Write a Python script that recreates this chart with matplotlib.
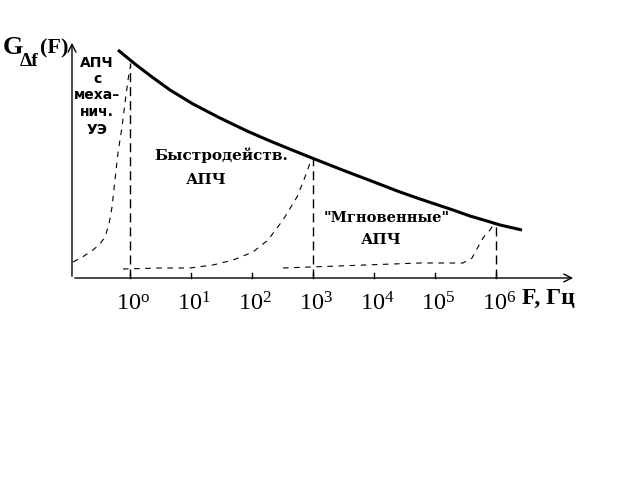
import matplotlib
matplotlib.use("Agg")
import matplotlib.pyplot as plt

plt.rcParams['mathtext.fontset'] = 'custom'
plt.rcParams['mathtext.rm'] = 'Liberation Serif'

# Data: x = log10(F), y = G (arbitrary units)
main_x = [-0.197, 0.082, 0.361, 0.656, 1.033, 1.475, 1.918, 2.295, 2.738, 3.066,
          3.525, 4.0, 4.426, 4.754, 5.0, 5.295, 5.574, 5.852, 6.066, 6.426]
main_y = [2.28, 2.14, 2.01, 1.88, 1.74, 1.60, 1.47, 1.37, 1.26, 1.18,
          1.07, 0.96, 0.86, 0.79, 0.74, 0.68, 0.62, 0.57, 0.53, 0.48]

mech_x = [-0.934, -0.754, -0.607, -0.492, -0.410, -0.344, -0.295, -0.246, -0.197,
          -0.131, -0.082, -0.033, 0.0]
mech_y = [0.16, 0.22, 0.28, 0.34, 0.41, 0.54, 0.71, 0.98, 1.25, 1.51, 1.75, 1.98, 2.10]

fast_x = [-0.115, 0.492, 0.984, 1.361, 1.689, 2.016, 2.262, 2.508, 2.738, 2.869, 2.951, 3.0]
fast_y = [0.09, 0.10, 0.10, 0.13, 0.18, 0.26, 0.38, 0.58, 0.81, 1.01, 1.15, 1.20]

inst_x = [2.508, 4.754, 5.459, 5.607, 5.705, 5.787, 5.902, 5.967]
inst_y = [0.10, 0.15, 0.15, 0.20, 0.31, 0.40, 0.48, 0.54]

vlines_x = [0.0, 3.0, 6.0]
vlines_top = [2.15, 1.20, 0.54]

tick_decades = [0, 1, 2, 3, 4, 5, 6]
tick_labels = [r'$\mathregular{10^{o}}$', r'$\mathregular{10^{1}}$', r'$\mathregular{10^{2}}$',
               r'$\mathregular{10^{3}}$', r'$\mathregular{10^{4}}$', r'$\mathregular{10^{5}}$',
               r'$\mathregular{10^{6}}$']

fig = plt.figure(figsize=(6.4, 4.8), dpi=100)
ax = fig.add_axes([0, 0, 1, 1])
ax.set_xlim(-130/61, 510/61)
ax.set_ylim(-2.02, 2.78)
ax.axis('off')

# axes arrows
x0 = -0.951
ax.annotate('', xy=(7.31, 0), xytext=(x0, 0),
            arrowprops=dict(arrowstyle='->', lw=1.0, color='black', mutation_scale=14))
ax.annotate('', xy=(x0, 2.38), xytext=(x0, -0.01),
            arrowprops=dict(arrowstyle='->', lw=1.0, color='black', mutation_scale=14))

# ticks
for d in tick_decades:
    ax.plot([d, d], [0, 0.05], color='black', lw=1.0)

# curves
ax.plot(main_x, main_y, color='black', lw=2.2, solid_capstyle='butt', solid_joinstyle='round')
dash = dict(color='black', lw=0.8, linestyle=(0, (5, 5)))
ax.plot(mech_x, mech_y, **dash)
ax.plot(fast_x, fast_y, **dash)
ax.plot(inst_x, inst_y, **dash)
for vx, vt in zip(vlines_x, vlines_top):
    ax.plot([vx, vx], [0, vt], color='black', lw=1.0, linestyle=(0, (6.5, 3.6)))

serif = 'Liberation Serif'
# tick labels
for d, lab in zip(tick_decades, tick_labels):
    ax.text(d + 0.05, -0.26, lab, ha='center', va='center', fontsize=17.5, color='black',
            family=serif)

ax.text((548-130)/61, -0.20, 'F, Гц', ha='center', va='center', fontsize=17,
        fontweight='bold', family=serif)

# y label
ax.text((3-130)/61, (278-48)/100, 'G', ha='left', va='center', fontsize=19, fontweight='bold', family=serif)
ax.text((20-130)/61, (278-62)/100, 'Δf', ha='left', va='center', fontsize=14, fontweight='bold', family=serif)
ax.text((40-130)/61, (278-48)/100, '(F)', ha='left', va='center', fontsize=16, fontweight='bold', family=serif)

sans = 'DejaVu Sans'
left_lines = ['АПЧ', 'с', 'меха–', 'нич.', 'УЭ']
left_y = [63, 79, 95, 112, 130]
for t, py in zip(left_lines, left_y):
    ax.text((97-130)/61, (278-py)/100, t, ha='center', va='center', fontsize=10,
            fontweight='bold', family=sans)

dser = 'DejaVu Serif'
ax.text((221-130)/61, (278-155)/100, 'Быстродейств.', ha='center', va='center', fontsize=11,
        fontweight='bold', family=dser)
ax.text((206-130)/61, (278-180)/100, 'АПЧ', ha='center', va='center', fontsize=11,
        fontweight='bold', family=dser)
ax.text((387-130)/61, (278-218)/100, '"Мгновенные"', ha='center', va='center', fontsize=10.5,
        fontweight='bold', family=dser)
ax.text((381-130)/61, (278-240)/100, 'АПЧ', ha='center', va='center', fontsize=11,
        fontweight='bold', family=dser)

fig.savefig('out.png', dpi=100)
